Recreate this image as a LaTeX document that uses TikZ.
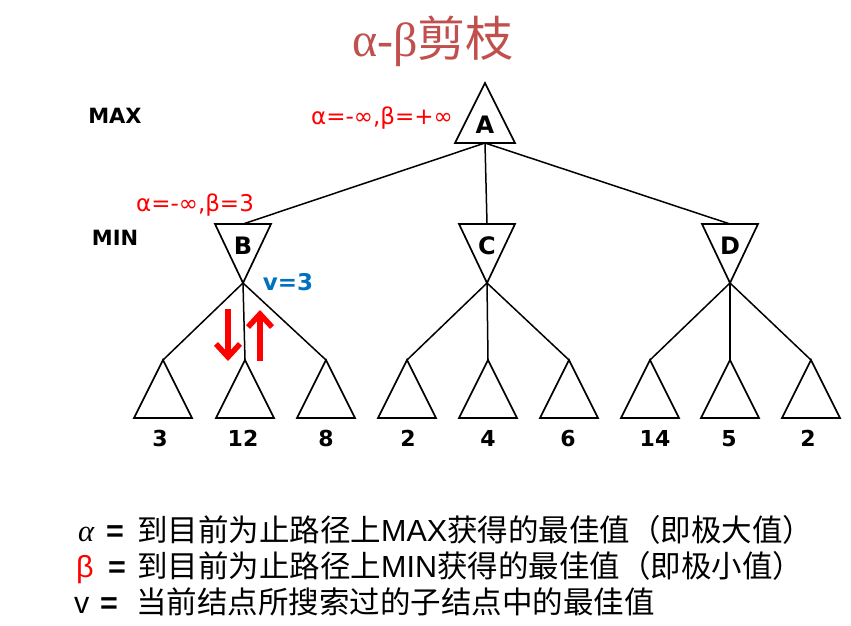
\documentclass[tikz,border=0pt]{standalone}
\usepackage{fontspec}
\setmainfont{DejaVu Sans}
\newfontfamily\cjk{Noto Sans CJK SC}
\newfontfamily\lsans{Liberation Sans}
\newfontfamily\lserif{Liberation Serif}
\usetikzlibrary{arrows.meta}
\definecolor{titlered}{RGB}{192,80,77}
\definecolor{vblue}{RGB}{0,112,192}
\begin{document}
\begin{tikzpicture}[x=1pt,y=-1pt,
  tri/.style={draw=black, line width=1.7pt, line join=miter},
  edge/.style={draw=black, line width=1.5pt},
  lab/.style={font=\fontsize{24}{24}\selectfont\bfseries, inner sep=0pt, anchor=base},
  num/.style={font=\fontsize{22}{22}\selectfont\bfseries, inner sep=0pt, anchor=base},
  lvl/.style={font=\fontsize{21}{21}\selectfont\bfseries, inner sep=0pt, anchor=base},
  ab/.style={font=\fontsize{23}{23}\selectfont, text=red, inner sep=0pt, anchor=base},
  leg/.style={anchor=base west, inner sep=0pt, font=\fontsize{30.5}{30}\selectfont},
  bigarrow/.style={draw=red, line width=5.5pt, -{Straight Barb[length=13pt,width=24pt]}}]
\useasboundingbox (0,0) rectangle (851,626);

% title
\node[anchor=base, inner sep=0pt, text=titlered] (title) at (433,57)
  {\fontsize{48}{48}\selectfont{\lserif α-β}\cjk 剪枝};

% level labels
\node[lvl] (max) at (115,123) {MAX};
\node[lvl] (min) at (115,245) {MIN};

% A (MAX)
\coordinate (Aapex) at (485,83);
\coordinate (Abase) at (485,143);
\draw[tri] (Aapex) -- (455,143) -- (515,143) -- cycle;
\node[lab] (A) at (485,133) {A};

% MIN nodes
\foreach \n/\x in {B/243,C/487,D/730}{
  \coordinate (\n top) at (\x,224);
  \coordinate (\n bot) at (\x,283);
  \draw[tri] (\x-28,224) -- (\x+28,224) -- (\n bot) -- cycle;
  \node[lab] (\n) at (\x,254) {\n};
}

% edges A -> MIN
\draw[edge] (Abase) -- (Btop);
\draw[edge] (Abase) -- (Ctop);
\draw[edge] (Abase) -- (Dtop);

% leaves
\foreach \i/\x in {1/163,2/245,3/326,4/407,5/488,6/569,7/650,8/730,9/811}{
  \coordinate (L\i) at (\x,360);
  \draw[tri] (L\i) -- ++(-29,58) -- ++(58,0) -- cycle;
}

% edges MIN -> leaves
\draw[edge] (Bbot) -- (L1);
\draw[edge] (Bbot) -- (L2);
\draw[edge] (Bbot) -- (L3);
\draw[edge] (Cbot) -- (L4);
\draw[edge] (Cbot) -- (L5);
\draw[edge] (Cbot) -- (L6);
\draw[edge] (Dbot) -- (L7);
\draw[edge] (Dbot) -- (L8);
\draw[edge] (Dbot) -- (L9);

% leaf values
\node[num] (n1) at (160,446) {3};
\node[num] (n2) at (243,446) {12};
\node[num] (n3) at (326,446) {8};
\node[num] (n4) at (408,446) {2};
\node[num] (n5) at (488,446) {4};
\node[num] (n6) at (568,446) {6};
\node[num] (n7) at (655,446) {14};
\node[num] (n8) at (729,446) {5};
\node[num] (n9) at (808,446) {2};

% annotations
\node[ab] (abA) at (382,124) {α=-∞,β=+∞};
\node[ab] (abB) at (195,211) {α=-∞,β=3};
\node[font=\fontsize{23}{23}\selectfont\bfseries, text=vblue, inner sep=0pt, anchor=base] (vB) at (288,290) {v=3};

% red arrows
\coordinate (d1) at (228,309);
\coordinate (d2) at (228,361);
\coordinate (u1) at (260,361);
\coordinate (u2) at (260,310);
\draw[bigarrow] (d1) -- (d2);
\draw[bigarrow] (u1) -- (u2);

% legend
\node[leg] (g1a) at (78,541) {\lserif\itshape α};
\node[leg] (g1b) at (106,541) {\lsans\bfseries =};
\node[leg] (g1c) at (137,541) {\cjk 到目前为止路径上{\lsans MAX}获得的最佳值（即极大值）};
\node[leg, text=red] (g2a) at (76,577) {\lsans β};
\node[leg] (g2b) at (108,577) {\lsans\bfseries =};
\node[leg] (g2c) at (137,577) {\cjk 到目前为止路径上{\lsans MIN}获得的最佳值（即极小值）};
\node[leg] (g3a) at (74,613) {\lsans v};
\node[leg] (g3b) at (100,613) {\lsans\bfseries =};
\node[leg] (g3c) at (136,613) {\cjk 当前结点所搜索过的子结点中的最佳值};
\end{tikzpicture}
\end{document}
